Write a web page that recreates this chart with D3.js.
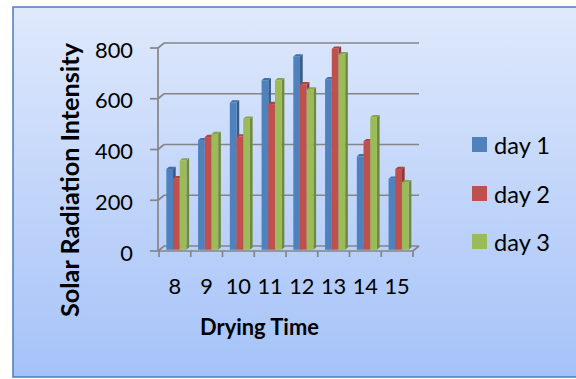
<!DOCTYPE html>
<html><head><meta charset="utf-8">
<script src="https://cdn.jsdelivr.net/npm/d3@7"></script>
<style>html,body{margin:0;padding:0;background:#fff;} svg{display:block;}</style>
</head><body>
<svg id="chart" width="576" height="379"></svg>
<script>
// Solar radiation intensity per drying hour, three drying days
const hours = ["8", "9", "10", "11", "12", "13", "14", "15"];
const seriesNames = ["day 1", "day 2", "day 3"];
const day1 = [318, 432, 580, 668, 762, 672, 368, 280];
const day2 = [282, 444, 446, 574, 652, 792, 428, 318];
const day3 = [352, 456, 516, 668, 632, 770, 522, 266];
const yTicks = [0, 200, 400, 600, 800];

const series = [day1, day2, day3];
const frontColors = ["#4F81BD", "#C0504D", "#9BBB59"];
const sideColors = ["#385D8A", "#8C3A37", "#71893F"];
const topColors = ["#4270A8", "#A84643", "#86A44C"];

const W = 576, H = 379;
const FONT = "Lato, 'Open Sans', sans-serif";
const svg = d3.select("#chart");

// font size that gives a sample string the wanted width
function sizeFor(sample, width, weight) {
  const t = svg.append("text").attr("font-family", FONT).attr("font-size", 20)
    .attr("font-weight", weight || "normal").text(sample);
  const len = t.node().getComputedTextLength();
  t.remove();
  return 20 * width / len;
}
const tickSize = sizeFor("800", 38);
const legendSize = sizeFor("day 1", 56);
const titleSize = sizeFor("Drying Time", 119, "bold");
const yTitleSize = sizeFor("Solar Radiation Intensity", 274, "bold");

// background panel with vertical gradient
const defs = svg.append("defs");
const grad = defs.append("linearGradient").attr("id", "bg").attr("x1", 0).attr("y1", 0).attr("x2", 0).attr("y2", 1);
grad.append("stop").attr("offset", "0%").attr("stop-color", "#dfe9fc");
grad.append("stop").attr("offset", "100%").attr("stop-color", "#a5c2f8");
svg.append("rect").attr("x", 13).attr("y", 7).attr("width", W).attr("height", 370)
  .attr("fill", "url(#bg)").attr("stroke", "#4a7ebb").attr("stroke-width", 1.5);

// 3D projection: depth vector from front plane to back wall
const DX = 6, DY = -5;
const x = d3.scaleBand().domain(hours).range([159, 413]);
const inner = d3.scaleBand().domain(d3.range(series.length)).range([0, x.bandwidth()])
  .paddingInner(0).paddingOuter(0.87);
const y = d3.scaleLinear().domain([0, 800]).range([251, 48]);

const grid = svg.append("g").attr("stroke", "#858585").attr("stroke-width", 1.7).attr("fill", "none");
const x0 = x.range()[0] - 1, x1 = x.range()[1];
// gridlines: diagonal on side wall, then across back wall
yTicks.forEach(t => {
  const yf = y(t);
  grid.append("path").attr("d", `M${x0},${yf}L${x0 + DX},${yf + DY}L${x1 + DX},${yf + DY}`);
  grid.append("line").attr("x1", x0 - 8).attr("x2", x0).attr("y1", yf).attr("y2", yf);
});
// value axis (front edge of side wall)
grid.append("line").attr("x1", x0).attr("x2", x0).attr("y1", y(800)).attr("y2", y(0));
// floor front edge, right edge and category ticks
grid.append("path").attr("d", `M${x0},${y(0)}L${x1},${y(0)}L${x1 + DX},${y(0) + DY}`);
hours.concat(["end"]).forEach(h => {
  const xv = h === "end" ? x1 : x(h);
  grid.append("line").attr("x1", xv).attr("x2", xv).attr("y1", y(0)).attr("y2", y(0) + 6);
});

// bars: front face, right side and top in depth slice [d0, d1]
const d0 = 0.25, d1 = 0.7;
const bars = svg.append("g");
hours.forEach((h, i) => {
  series.forEach((vals, s) => {
    const v = vals[i];
    const bx = x(h) + inner(s) + d0 * DX;
    const bw = inner.bandwidth();
    const yt = y(v) + d0 * DY, yb = y(0) + d0 * DY;
    const ox = (d1 - d0) * DX, oy = (d1 - d0) * DY;
    bars.append("path").attr("fill", sideColors[s])
      .attr("d", `M${bx + bw},${yb}L${bx + bw + ox},${yb + oy}L${bx + bw + ox},${yt + oy}L${bx + bw},${yt}Z`);
    bars.append("path").attr("fill", topColors[s])
      .attr("d", `M${bx},${yt}L${bx + ox},${yt + oy}L${bx + bw + ox},${yt + oy}L${bx + bw},${yt}Z`);
    bars.append("rect").attr("x", bx).attr("y", yt).attr("width", bw).attr("height", yb - yt)
      .attr("fill", frontColors[s]);
  });
});

// tick labels
const labels = svg.append("g").attr("font-family", FONT).attr("fill", "#000");
yTicks.forEach(t => {
  labels.append("text").attr("x", 133).attr("y", y(t) + 2).attr("dy", "0.35em")
    .attr("text-anchor", "end").attr("font-size", tickSize).text(t);
});
hours.forEach(h => {
  labels.append("text").attr("x", x(h) + x.bandwidth() / 2).attr("y", 286).attr("dy", "0.35em")
    .attr("text-anchor", "middle").attr("font-size", tickSize).text(h);
});

// axis titles
labels.append("text").attr("x", 259.5).attr("y", 327).attr("dy", "0.35em")
  .attr("text-anchor", "middle").attr("font-size", titleSize).attr("font-weight", "bold").text("Drying Time");
labels.append("text").attr("transform", "translate(70,180) rotate(-90)").attr("dy", "0.35em")
  .attr("text-anchor", "middle").attr("font-size", yTitleSize).attr("font-weight", "bold")
  .text("Solar Radiation Intensity");

// legend
const legY = [144.5, 193.5, 241.5];
seriesNames.forEach((name, s) => {
  labels.append("rect").attr("x", 472).attr("y", legY[s] - 7.5).attr("width", 15).attr("height", 15)
    .attr("fill", frontColors[s]);
  labels.append("text").attr("x", 494).attr("y", legY[s] + 1).attr("dy", "0.35em")
    .attr("font-size", legendSize).text(name);
});
</script>
</body></html>
